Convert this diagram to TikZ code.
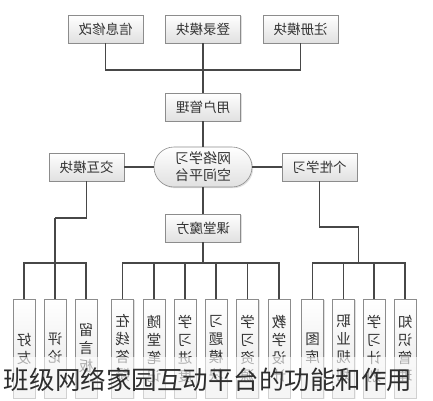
\documentclass[tikz,border=0pt]{standalone}
\usepackage{graphicx}
\usepackage{fontspec}
\setmainfont{Noto Sans CJK SC}
\usetikzlibrary{shapes.misc,shadows}
\newcommand{\mir}[1]{\reflectbox{#1}}
\begin{document}
\begin{tikzpicture}[x=1pt,y=-1pt,
  boxstyle/.style={draw=black!45, line width=0.6pt, top color=white, bottom color=black!12,
    minimum width=75pt, minimum height=28pt, inner sep=0pt,
    font=\fontsize{13.5}{15}\selectfont, text=black!80,
    drop shadow={opacity=0.25, shadow xshift=1.2pt, shadow yshift=-1.2pt}},
  leafstyle/.style={draw=black!45, line width=0.6pt, top color=white, bottom color=black!10,
    minimum width=22pt, minimum height=99pt, inner sep=0pt, align=center,
    font=\fontsize{14.5}{18}\selectfont, text=black!80,
    drop shadow={opacity=0.25, shadow xshift=1.2pt, shadow yshift=-1.2pt}},
  hubstyle/.style={draw=black!45, line width=0.6pt, rounded rectangle, top color=white, bottom color=black!12,
    minimum width=98pt, minimum height=40pt, inner sep=0pt, align=center,
    font=\fontsize{14}{17}\selectfont, text=black!80,
    drop shadow={opacity=0.25, shadow xshift=1.2pt, shadow yshift=-1.2pt}},
  conn/.style={draw=black!72, line width=1.3pt}
]
\useasboundingbox (0,0) rectangle (433,400);
\fill[white] (0,0) rectangle (433,400);

% top level
\node[boxstyle] (info) at (105.5,29) {\mir{信息修改}};
\node[boxstyle] (login) at (203,29) {\mir{登录模块}};
\node[boxstyle] (reg) at (300.5,29) {\mir{注册模块}};
\node[boxstyle] (user) at (203,107) {\mir{用户管理}};
\node[hubstyle] (hub) at (203,167) {\mir{网络学习}\\\mir{空间平台}};
\node[boxstyle] (jh) at (86.5,167) {\mir{交互模块}};
\node[boxstyle] (gx) at (319.5,167) {\mir{个性学习}};
\node[boxstyle] (kt) at (203,228) {\mir{课堂魔方}};

% leaves
\node[leafstyle] (l1) at (24,348.5) {\mir{好}\\\mir{友}};
\node[leafstyle] (l2) at (55,348.5) {\mir{评}\\\mir{论}};
\node[leafstyle] (l3) at (86,348.5) {\mir{留}\\\mir{言}\\\mir{板}};

\node[leafstyle] (m1) at (122.5,348.5) {\mir{在}\\\mir{线}\\\mir{答}\\\mir{疑}};
\node[leafstyle] (m2) at (154,348.5) {\mir{随}\\\mir{堂}\\\mir{笔}\\\mir{记}};
\node[leafstyle] (m3) at (185,348.5) {\mir{学}\\\mir{习}\\\mir{进}\\\mir{度}};
\node[leafstyle] (m4) at (216,348.5) {\mir{习}\\\mir{题}\\\mir{模}\\\mir{块}};
\node[leafstyle] (m5) at (247.5,348.5) {\mir{学}\\\mir{习}\\\mir{资}\\\mir{源}};
\node[leafstyle] (m6) at (279,348.5) {\mir{教}\\\mir{学}\\\mir{设}\\\mir{计}};

\node[leafstyle] (r1) at (312.5,348.5) {\mir{图}\\\mir{库}};
\node[leafstyle] (r2) at (343.5,348.5) {\mir{职}\\\mir{业}\\\mir{规}\\\mir{划}};
\node[leafstyle] (r3) at (374,348.5) {\mir{学}\\\mir{习}\\\mir{计}\\\mir{划}};
\node[leafstyle] (r4) at (405,348.5) {\mir{知}\\\mir{识}\\\mir{管}\\\mir{理}};

% coordinates
\coordinate (tb) at (203,70);
\coordinate (lj) at (55,218);
\coordinate (lb) at (55,263);
\coordinate (mb) at (203,263);
\coordinate (rj) at (358.5,227);
\coordinate (rb) at (358.5,263);

% connectors
\begin{scope}[on background layer/.style={}]
\draw[conn] (info.south) |- (tb) -| (reg.south);
\draw[conn] (login.south) -- (user.north);
\draw[conn] (user.south) -- (hub.north);
\draw[conn] (hub.west) -- (jh.east);
\draw[conn] (hub.east) -- (gx.west);
\draw[conn] (hub.south) -- (kt.north);

\draw[conn] (jh.south) |- (lj);
\draw[conn] (lj) -- (lb);
\draw[conn] (l1.north) |- (lb) -| (l3.north);
\draw[conn] (l2.north) -- (lb);

\draw[conn] (kt.south) -- (mb);
\draw[conn] (m1.north) |- (mb) -| (m6.north);
\foreach \n in {m2,m3,m4,m5} \draw[conn] (\n.north) -- (\n.north |- mb);

\draw[conn] (gx.south) |- (rj);
\draw[conn] (rj) -- (rb);
\draw[conn] (r1.north) |- (rb) -| (r4.north);
\foreach \n in {r2,r3} \draw[conn] (\n.north) -- (\n.north |- rb);
\end{scope}

% caption band
\fill[white, opacity=0.6] (0,357) rectangle (433,400);
\node[font=\fontsize{25.5}{28}\selectfont, text=black!82, inner sep=0pt] (cap) at (208,380) {班级网络家园互动平台的功能和作用};
\end{tikzpicture}
\end{document}
